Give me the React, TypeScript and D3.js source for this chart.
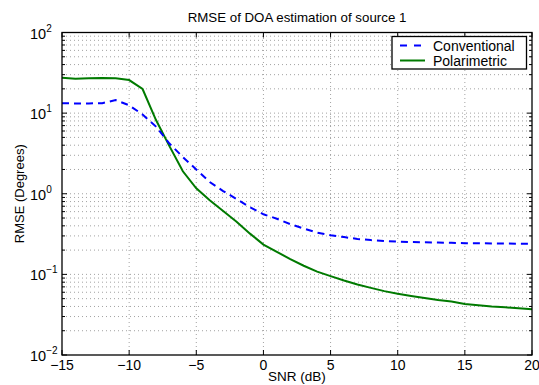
import * as d3 from "d3"

const snr = [-15, -14, -13, -12, -11, -10, -9, -8, -7, -6, -5, -4, -3, -2, -1, 0, 1, 2, 3, 4, 5, 6, 7, 8, 9, 10, 11, 12, 13, 14, 15, 16, 17, 18, 19, 20]
const conventional = [13.3, 13.2, 13.2, 13.3, 14.5, 12.5, 9.6, 6.8, 4.2, 2.85, 2.0, 1.4, 1.08, 0.86, 0.68, 0.556, 0.49, 0.42, 0.37, 0.33, 0.305, 0.29, 0.275, 0.266, 0.26, 0.255, 0.252, 0.25, 0.248, 0.246, 0.244, 0.243, 0.242, 0.241, 0.24, 0.24]
const polarimetric = [27.5, 26.6, 27.0, 27.3, 27.0, 25.7, 19.9, 8.2, 3.9, 1.9, 1.17, 0.83, 0.61, 0.45, 0.32, 0.234, 0.19, 0.155, 0.128, 0.108, 0.095, 0.084, 0.075, 0.068, 0.062, 0.0575, 0.054, 0.051, 0.048, 0.046, 0.043, 0.0415, 0.040, 0.039, 0.038, 0.037]
const xTicks = [-15, -10, -5, 0, 5, 10, 15, 20]
const yExponents = [-2, -1, 0, 1, 2]

const W = 539
const H = 385
const margin = { top: 32.5, right: 7, bottom: 30, left: 62 }
const font = "'Liberation Sans', Arial, Helvetica, sans-serif"

export default function App() {
  const x = d3.scaleLinear().domain([-15, 20]).range([margin.left, W - margin.right])
  const y = d3.scaleLog().domain([0.01, 100]).range([H - margin.bottom, margin.top])
  const x0 = x.range()[0], x1 = x.range()[1]
  const y0 = y.range()[0], y1 = y.range()[1]

  // minor log ticks 2..9 of each decade
  const minor: number[] = []
  yExponents.slice(0, -1).forEach((e) => {
    for (let k = 2; k <= 9; k++) minor.push(k * Math.pow(10, e))
  })

  const line = d3
    .line<number>()
    .x((_, i) => x(snr[i]))
    .y((d) => y(d))

  const gridStyle = { stroke: "#8a8a8a", strokeWidth: 0.8, strokeDasharray: "1,3" }

  return (
    <svg width={W} height={H} style={{ position: "absolute", left: 0, top: 0, background: "#fff" }}>
      <rect x={0} y={0} width={W} height={H} fill="#fff" />
      {/* grid */}
      {xTicks.slice(1, -1).map((t) => (
        <line key={"gx" + t} x1={x(t)} x2={x(t)} y1={y0} y2={y1} {...gridStyle} />
      ))}
      {[...minor, ...yExponents.slice(1, -1).map((e) => Math.pow(10, e))].map((v) => (
        <line key={"gy" + v} x1={x0} x2={x1} y1={y(v)} y2={y(v)} {...gridStyle} />
      ))}

      {/* curves */}
      <path d={line(polarimetric) || ""} fill="none" stroke="#007a00" strokeWidth={2} />
      <path d={line(conventional) || ""} fill="none" stroke="#0000ff" strokeWidth={2} strokeDasharray="7,5" />

      {/* axes box */}
      <rect x={x0} y={y1} width={x1 - x0} height={y0 - y1} fill="none" stroke="#000" strokeWidth={1.3} />
      {xTicks.map((t) => (
        <g key={"tx" + t}>
          <line x1={x(t)} x2={x(t)} y1={y0} y2={y0 - 5} stroke="#000" />
          <line x1={x(t)} x2={x(t)} y1={y1} y2={y1 + 5} stroke="#000" />
          <text x={x(t)} y={y0 + 15} textAnchor="middle" fontSize={14} fontFamily={font}>
            {t < 0 ? "\u2212" + Math.abs(t) : t}
          </text>
        </g>
      ))}
      {minor.map((v) => (
        <g key={"tm" + v}>
          <line x1={x0} x2={x0 + 3} y1={y(v)} y2={y(v)} stroke="#000" />
          <line x1={x1} x2={x1 - 3} y1={y(v)} y2={y(v)} stroke="#000" />
        </g>
      ))}
      {yExponents.map((e) => (
        <g key={"ty" + e}>
          <line x1={x0} x2={x0 + 5} y1={y(Math.pow(10, e))} y2={y(Math.pow(10, e))} stroke="#000" />
          <line x1={x1} x2={x1 - 5} y1={y(Math.pow(10, e))} y2={y(Math.pow(10, e))} stroke="#000" />
          <text x={30} y={y(Math.pow(10, e)) + 6} textAnchor="start" fontSize={14.5} fontFamily={font}>
            10
            <tspan dy={-7} fontSize={10}>
              {e < 0 ? "\u2212" + Math.abs(e) : e}
            </tspan>
          </text>
        </g>
      ))}

      {/* labels */}
      <text x={(x0 + x1) / 2} y={21.5} textAnchor="middle" fontSize={13.3} fontFamily={font}>
        RMSE of DOA estimation of source 1
      </text>
      <text x={(x0 + x1) / 2} y={381} textAnchor="middle" fontSize={13.5} fontFamily={font}>
        SNR (dB)
      </text>
      <text transform={`translate(24,${(y0 + y1) / 2}) rotate(-90)`} textAnchor="middle" fontSize={13} fontFamily={font}>
        RMSE (Degrees)
      </text>

      {/* legend */}
      <g>
        <rect x={392} y={36.5} width={134.5} height={32.5} fill="#fff" stroke="#000" strokeWidth={1.3} />
        <line x1={400} x2={425} y1={45.5} y2={45.5} stroke="#0000ff" strokeWidth={2} strokeDasharray="7,7" />
        <line x1={400} x2={425} y1={60.5} y2={60.5} stroke="#007a00" strokeWidth={2} />
        <text x={433} y={50.5} fontSize={14} fontFamily={font}>Conventional</text>
        <text x={433} y={65.5} fontSize={14} fontFamily={font}>Polarimetric</text>
      </g>
    </svg>
  )
}
